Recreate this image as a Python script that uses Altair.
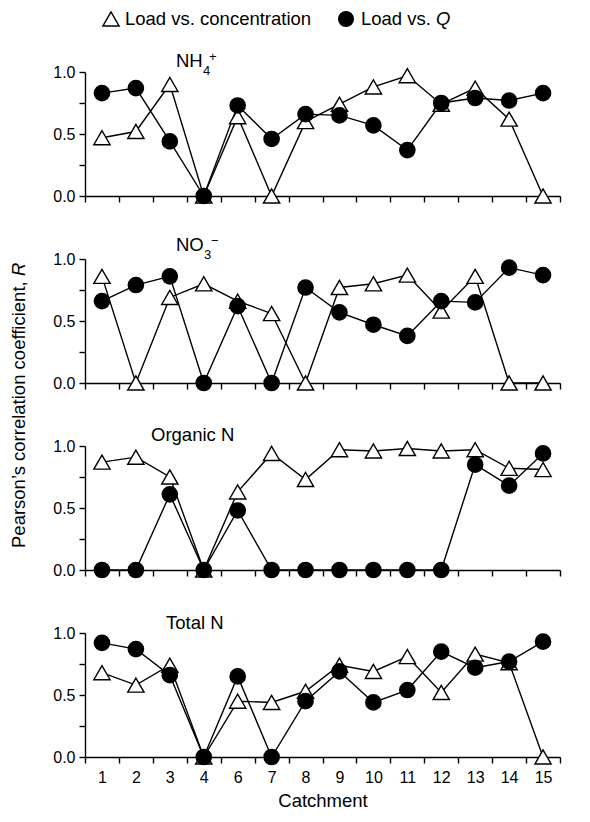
import altair as alt
import pandas as pd

# ---------------- data ----------------
catchments = ["1", "2", "3", "4", "6", "7", "8", "9", "10", "11", "12", "13", "14", "15"]
series_names = ["Load vs. concentration", "Load vs. Q"]

nh4_conc = [0.47, 0.52, 0.90, 0.00, 0.64, 0.00, 0.60, 0.74, 0.88, 0.97, 0.74, 0.87, 0.62, 0.00]
nh4_q    = [0.83, 0.87, 0.44, 0.00, 0.73, 0.46, 0.66, 0.65, 0.57, 0.37, 0.75, 0.79, 0.77, 0.83]
no3_conc = [0.86, 0.00, 0.69, 0.80, 0.66, 0.56, 0.00, 0.77, 0.80, 0.87, 0.58, 0.86, 0.00, 0.00]
no3_q    = [0.66, 0.79, 0.86, 0.00, 0.62, 0.00, 0.77, 0.57, 0.47, 0.38, 0.66, 0.65, 0.93, 0.87]
org_conc = [0.87, 0.91, 0.75, 0.00, 0.63, 0.94, 0.73, 0.97, 0.96, 0.98, 0.96, 0.97, 0.82, 0.81]
org_q    = [0.00, 0.00, 0.61, 0.00, 0.48, 0.00, 0.00, 0.00, 0.00, 0.00, 0.00, 0.85, 0.68, 0.94]
tn_conc  = [0.68, 0.58, 0.74, 0.00, 0.45, 0.44, 0.53, 0.74, 0.69, 0.81, 0.52, 0.83, 0.76, 0.00]
tn_q     = [0.92, 0.87, 0.66, 0.00, 0.65, 0.00, 0.45, 0.69, 0.44, 0.54, 0.85, 0.72, 0.77, 0.93]

y_ticks = [0, 0.25, 0.5, 0.75, 1.0]
x_title = "Catchment"
y_title_main = "Pearson\u2019s correlation coefficient, "
y_title_italic = "R"

FONT = "Liberation Sans"
W, H = 475, 124
TRI_SIZE, CIR_SIZE = 265, 215
LW = 1.4
FS = 18.5


def txt(s, x, y, size=FS, italic=False, angle=0, align="left", baseline="alphabetic"):
    kw = dict(text=s, font=FONT, fontSize=size, color="black", align=align, baseline=baseline)
    if italic:
        kw["fontStyle"] = "italic"
    if angle:
        kw["angle"] = angle
    return alt.Chart(pd.DataFrame({"k": [0]})).mark_text(**kw).encode(
        x=alt.value(x), y=alt.value(y))


def sym(shape, x, y, filled_black):
    return alt.Chart(pd.DataFrame({"k": [0]})).mark_point(
        shape=shape, size=CIR_SIZE if filled_black else TRI_SIZE, filled=True,
        fill="black" if filled_black else "white", stroke="black",
        strokeWidth=LW, opacity=1).encode(x=alt.value(x), y=alt.value(y))


def panel(conc, q, extras, show_x):
    df = pd.DataFrame({
        "Catchment": catchments * 2,
        "R": conc + q,
        "Series": [series_names[0]] * len(catchments) + [series_names[1]] * len(catchments),
    })
    xaxis = alt.Axis(title=x_title if show_x else None, labels=show_x, tickBand="extent",
                     tickSize=6, labelAngle=0, labelFontSize=16, labelPadding=6,
                     titleFontSize=FS, titlePadding=6, titleFontWeight="normal", grid=False)
    yaxis = alt.Axis(title=None, values=y_ticks, tickSize=6, labelFontSize=16, labelPadding=4,
                     grid=False,
                     labelExpr="(datum.value == 0 || datum.value == 0.5 || datum.value == 1) ? format(datum.value, '.1f') : ''")
    base = alt.Chart(df).encode(
        x=alt.X("Catchment:N", sort=catchments, bandPosition=0.5,
                scale=alt.Scale(type="band", domain=catchments, paddingInner=0, paddingOuter=0),
                axis=xaxis),
        y=alt.Y("R:Q", scale=alt.Scale(domain=[0, 1], nice=False), axis=yaxis),
    )
    c = base.transform_filter(alt.datum.Series == series_names[0])
    qq = base.transform_filter(alt.datum.Series == series_names[1])
    layers = [
        c.mark_line(color="black", strokeWidth=LW),
        qq.mark_line(color="black", strokeWidth=LW),
        c.mark_point(shape="triangle-up", size=TRI_SIZE, filled=True, fill="white",
                     stroke="black", strokeWidth=LW, opacity=1),
        qq.mark_point(shape="circle", size=CIR_SIZE, filled=True, fill="black",
                      stroke="black", opacity=1),
    ] + extras
    return alt.layer(*layers).properties(width=W, height=H)


legend = [
    sym("triangle-up", 26, -53, False),
    txt(series_names[0], 40, -53, baseline="middle"),
    sym("circle", 261, -53, True),
    txt("Load vs. ", 276, -53, baseline="middle"),
    txt("Q", 276 + 75, -53, italic=True, baseline="middle"),
]

p1 = panel(nh4_conc, nh4_q, [
    txt("NH", 91, -5), txt("4", 118, 3, size=13), txt("+", 124, -11, size=13),
] + legend, False)
p2 = panel(no3_conc, no3_q, [
    txt("NO", 91, -8), txt("3", 119, 0, size=13), txt("\u2212", 126, -14, size=13),
], False)
p3 = panel(org_conc, org_q, [
    txt("Organic N", 66, -5),
    txt(y_title_main, -66, 102, angle=270, baseline="middle"),
    txt(y_title_italic, -66, 102 - 272, italic=True, angle=270, baseline="middle"),
], False)
p4 = panel(tn_conc, tn_q, [txt("Total N", 81, -4)], True)

chart = alt.vconcat(p1, p2, p3, p4, spacing=63, bounds="flush").properties(
    padding={"left": 1, "top": 0, "right": 5, "bottom": 5},
    background="white",
).configure_view(stroke=None).configure_axis(
    domainColor="black", tickColor="black", labelColor="black", titleColor="black",
    labelFont=FONT, titleFont=FONT, titleFontWeight="normal",
    domainWidth=1.4, tickWidth=1.4,
)

chart.save("out.html", embed_options={"renderer": "svg", "actions": False})
